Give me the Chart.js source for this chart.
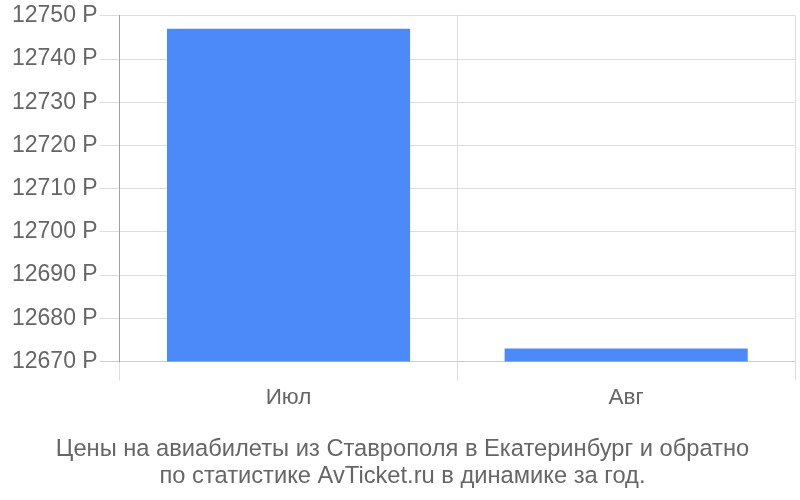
<!DOCTYPE html>
<html>
<head>
<meta charset="utf-8">
<script src="https://cdn.jsdelivr.net/npm/chart.js@4"></script>
<style>
  html, body { margin: 0; padding: 0; background: #fff; }
  #wrap { width: 800px; height: 500px; }
</style>
</head>
<body>
<div id="wrap"><canvas id="chart"></canvas></div>
<script>
const months = ['Июл', 'Авг'];
const prices = [12747, 12673];
const titleLines = [
    'Цены на авиабилеты из Ставрополя в Екатеринбург и обратно',
    'по статистике AvTicket.ru в динамике за год.'
];

const ctx = document.getElementById('chart').getContext('2d');

new Chart(ctx, {
    type: 'bar',
    data: {
        labels: months,
        datasets: [{
            data: prices,
            backgroundColor: '#4d8af9',
            borderWidth: 0
        }]
    },
    options: {
        responsive: true,
        maintainAspectRatio: false,
        animation: false,
        layout: {
            padding: { top: 2, right: 5, left: 10, bottom: 2 }
        },
        scales: {
            x: {
                grid: {
                    color: '#dddddd',
                    tickLength: 19,
                    lineWidth: 1
                },
                border: { display: false },
                ticks: {
                    color: '#666',
                    font: { family: 'Liberation Sans', size: 22.5 },
                    padding: 4
                }
            },
            y: {
                min: 12670,
                max: 12750,
                grid: {
                    color: ctx => ctx.tick && ctx.tick.value === 12670 ? '#cccccc' : '#dddddd',
                    tickLength: 20
                },
                border: { display: true, color: '#a0a0a0' },
                ticks: {
                    stepSize: 10,
                    color: '#666',
                    padding: 2,
                    font: { family: 'Liberation Sans', size: 23 },
                    callback: v => v + ' Р'
                }
            }
        },
        plugins: {
            legend: { display: false },
            tooltip: { enabled: false },
            title: {
                display: true,
                position: 'bottom',
                text: titleLines,
                color: '#666',
                font: { family: 'Liberation Sans', size: 23.7, weight: 'normal', lineHeight: 1.15 },
                padding: { top: 20, bottom: 8 }
            }
        }
    }
});
</script>
</body>
</html>
